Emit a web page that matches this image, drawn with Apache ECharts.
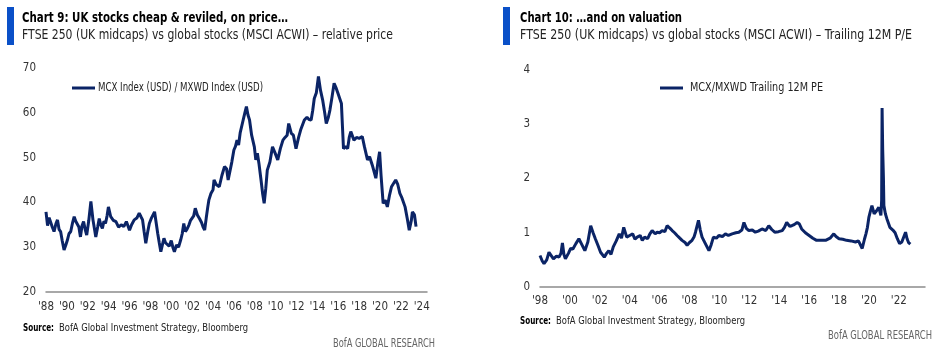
<!DOCTYPE html>
<html>
<head>
<meta charset="utf-8">
<script src="https://cdn.jsdelivr.net/npm/echarts@6/dist/echarts.min.js"></script>
<style>
  html, body { margin: 0; padding: 0; background: #fff; }
  #main { width: 937px; height: 354px; }
</style>
</head>
<body>
<div id="main"></div>
<script>
// Chart 9: relative price MCX / MXWD (decimal years)
var priceYears = [1988.00,1988.15,1988.3,1988.45,1988.6,1988.77,1988.95,1989.1,1989.25,1989.4,1989.55,1989.73,1989.9,1990.05,1990.2,1990.37,1990.55,1990.7,1990.85,1991.0,1991.15,1991.3,1991.45,1991.6,1991.75,1991.9,1992.1,1992.3,1992.5,1992.65,1992.77,1992.95,1993.1,1993.25,1993.4,1993.55,1993.7,1993.85,1993.98,1994.2,1994.45,1994.7,1994.95,1995.2,1995.45,1995.7,1995.85,1996.0,1996.2,1996.45,1996.7,1996.93,1997.1,1997.25,1997.4,1997.56,1997.75,1997.9,1998.1,1998.4,1998.55,1998.7,1998.85,1999.0,1999.15,1999.3,1999.45,1999.6,1999.8,2000.0,2000.15,2000.3,2000.5,2000.7,2000.9,2001.05,2001.2,2001.35,2001.5,2001.7,2001.85,2002.0,2002.15,2002.3,2002.5,2002.7,2002.9,2003.05,2003.2,2003.35,2003.5,2003.6,2003.8,2004.0,2004.1,2004.3,2004.6,2004.85,2005.1,2005.3,2005.45,2005.6,2005.8,2006.0,2006.15,2006.3,2006.45,2006.6,2006.85,2007.05,2007.2,2007.35,2007.5,2007.7,2007.96,2008.1,2008.25,2008.4,2008.6,2008.75,2008.9,2009.05,2009.2,2009.45,2009.7,2009.95,2010.2,2010.45,2010.7,2010.9,2011.1,2011.25,2011.5,2011.7,2011.95,2012.2,2012.4,2012.75,2013.0,2013.2,2013.4,2013.55,2013.7,2013.9,2014.1,2014.3,2014.5,2014.7,2014.85,2015.05,2015.2,2015.4,2015.6,2015.8,2015.96,2016.3,2016.4,2016.5,2016.7,2016.9,2017.05,2017.2,2017.5,2017.75,2018.0,2018.3,2018.5,2018.8,2019.0,2019.3,2019.6,2019.8,2019.96,2020.1,2020.3,2020.5,2020.7,2020.9,2021.1,2021.5,2021.7,2021.9,2022.1,2022.4,2022.6,2022.8,2023.0,2023.1,2023.3,2023.45];
var priceValues = [37.9,34.8,36.6,36.4,34.5,33.5,35.2,36.1,34.0,33.5,31.5,29.4,30.5,31.6,33.0,33.5,35.5,36.8,35.8,36.1,34.5,32.3,34.8,35.7,34.0,32.7,36.0,40.2,36.1,34.0,32.3,34.5,36.4,35.0,34.2,35.8,35.3,37.0,39.0,36.8,36.0,35.7,34.5,35.0,34.6,35.7,34.8,33.8,35.0,36.1,36.5,37.6,36.8,36.1,33.5,30.9,33.5,35.3,36.5,37.9,35.5,33.1,31.0,29.0,30.5,32.0,31.0,31.4,30.2,31.5,30.0,29.0,30.5,30.0,31.6,33.0,35.3,33.5,34.0,35.0,36.0,36.1,37.0,38.7,37.2,36.4,35.5,34.5,33.8,36.5,39.0,40.5,42.0,42.8,45.0,44.0,43.5,46.0,48.0,47.5,45.0,45.4,49.0,51.7,52.5,53.9,52.8,55.5,58.0,60.0,61.4,59.5,58.4,55.0,52.4,49.5,51.0,48.7,45.0,42.0,39.8,43.0,47.2,49.0,52.4,51.0,49.5,52.0,53.9,54.5,55.0,57.6,55.4,55.0,52.0,54.5,56.2,58.4,59.0,58.5,58.4,60.5,63.2,64.5,68.1,65.0,62.9,60.0,57.6,59.0,60.6,63.5,66.6,65.5,64.4,62.1,57.0,52.0,52.5,52.0,54.5,55.8,53.9,54.5,54.3,54.7,52.5,49.5,50.2,48.0,45.4,49.0,51.3,46.0,39.8,40.5,39.0,41.5,43.5,45.0,44.0,42.0,41.0,39.0,36.5,33.8,36.0,37.9,37.2,34.6];

// Chart 10: relative trailing 12M P/E MCX / MXWD
var peYears = [1998.0,1998.15,1998.27,1998.45,1998.6,1998.75,1998.9,1999.1,1999.27,1999.4,1999.5,1999.6,1999.7,1999.9,2000.05,2000.2,2000.4,2000.6,2000.8,2001.0,2001.2,2001.39,2001.55,2001.7,2001.9,2002.05,2002.3,2002.45,2002.6,2002.75,2002.9,2003.1,2003.3,2003.45,2003.6,2003.8,2004.0,2004.2,2004.35,2004.5,2004.7,2004.84,2005.0,2005.2,2005.35,2005.5,2005.7,2005.84,2006.0,2006.17,2006.35,2006.5,2006.7,2006.84,2007.0,2007.17,2007.35,2007.5,2007.7,2007.84,2008.0,2008.17,2008.3,2008.4,2008.6,2008.72,2008.84,2009.06,2009.3,2009.45,2009.6,2009.8,2009.96,2010.2,2010.4,2010.6,2010.85,2011.1,2011.3,2011.5,2011.64,2011.8,2011.97,2012.2,2012.4,2012.6,2012.85,2013.1,2013.3,2013.5,2013.7,2013.95,2014.2,2014.35,2014.5,2014.7,2014.84,2015.0,2015.2,2015.35,2015.5,2015.75,2016.0,2016.25,2016.5,2016.8,2017.1,2017.4,2017.65,2017.8,2018.0,2018.25,2018.5,2018.8,2019.1,2019.3,2019.4,2019.55,2019.7,2019.8,2019.9,2020.0,2020.1,2020.2,2020.35,2020.5,2020.66,2020.8,2020.85,2020.88,2020.92,2020.97,2021.0,2021.1,2021.2,2021.4,2021.6,2021.75,2021.9,2022.05,2022.2,2022.3,2022.45,2022.55,2022.65,2022.77];
var peValues = [0.58,0.48,0.43,0.50,0.64,0.58,0.52,0.57,0.55,0.62,0.81,0.60,0.52,0.62,0.71,0.70,0.80,0.89,0.78,0.67,0.83,1.13,1.00,0.89,0.75,0.64,0.55,0.62,0.67,0.60,0.74,0.85,0.98,0.90,1.10,0.92,0.95,0.98,0.88,0.92,0.95,0.86,0.92,0.89,0.98,1.04,0.98,1.01,1.00,1.04,1.02,1.13,1.08,1.04,1.00,0.95,0.90,0.86,0.82,0.77,0.82,0.86,0.92,1.01,1.23,1.05,0.92,0.80,0.67,0.78,0.92,0.90,0.95,0.93,0.98,0.95,0.98,1.00,1.01,1.05,1.19,1.08,1.04,1.05,1.01,1.03,1.07,1.04,1.13,1.06,1.01,1.02,1.04,1.10,1.19,1.12,1.13,1.15,1.19,1.16,1.07,1.00,0.95,0.90,0.86,0.86,0.86,0.90,0.98,0.93,0.89,0.88,0.86,0.85,0.83,0.85,0.86,0.71,0.88,0.98,1.10,1.29,1.40,1.50,1.35,1.40,1.47,1.32,1.60,3.30,2.54,2.00,1.50,1.35,1.26,1.10,1.05,1.00,0.89,0.80,0.83,0.82,1.01,0.89,0.82,0.79];

var priceTicks = [20, 70, 10];
var peTicks = [0, 4, 1];
var priceName = 'MCX Index (USD) / MXWD Index (USD)';
var peName = 'MCX/MXWD Trailing 12M PE';

var navy = '#0b2466';
var fontNarrow = '"DejaVu Sans Condensed", "Liberation Sans Narrow", sans-serif';

function pairs(xs, ys) {
  return xs.map(function (x, i) { return [x, ys[i]]; });
}
function yearLabel(v) {
  if (Math.abs(v - Math.round(v)) > 1e-6 || Math.round(v) % 2 !== 0) return '';
  return "'" + String(Math.round(v)).slice(2);
}

// squeeze text horizontally so it takes the width of the condensed original font
var measureCtx = document.createElement('canvas').getContext('2d');
function fitText(x, y, text, font, color, targetW) {
  measureCtx.font = font;
  var w = measureCtx.measureText(text).width;
  return {
    type: 'text', x: x, y: y, scaleX: targetW / w, silent: true,
    style: { text: text, font: font, fill: color, verticalAlign: 'middle', align: 'left' }
  };
}
function legendLine(x, y) {
  return { type: 'line', shape: { x1: x, y1: y, x2: x + 23, y2: y }, style: { stroke: navy, lineWidth: 3 } };
}

var myChart = echarts.init(document.getElementById('main'));

var xCommon = {
  type: 'value',
  interval: 2,
  axisLine: { show: true, lineStyle: { color: '#8c8c8c', width: 1.5 } },
  axisTick: { show: false },
  splitLine: { show: false },
  axisLabel: { formatter: yearLabel, color: '#333', fontSize: 11.5, fontFamily: fontNarrow, margin: 9, showMaxLabel: true }
};
var yCommon = {
  type: 'value',
  axisLine: { show: false },
  axisTick: { show: false },
  splitLine: { show: false },
  axisLabel: { color: '#333', fontSize: 11.5, fontFamily: fontNarrow, margin: 10 }
};

var option = {
  animation: false,
  grid: [
    { left: 46, top: 68, width: 381, height: 224 },
    { left: 540, top: 70, width: 385, height: 217 }
  ],
  xAxis: [
    Object.assign({}, xCommon, { gridIndex: 0, min: 1988, max: 2024.5 }),
    Object.assign({}, xCommon, { gridIndex: 1, min: 1998, max: 2023.75, axisLabel: Object.assign({}, xCommon.axisLabel, { margin: 8 }) })
  ],
  yAxis: [
    Object.assign({}, yCommon, { gridIndex: 0, min: priceTicks[0], max: priceTicks[1], interval: priceTicks[2] }),
    Object.assign({}, yCommon, { gridIndex: 1, min: peTicks[0], max: peTicks[1], interval: peTicks[2] })
  ],
  series: [
    {
      name: priceName, type: 'line', xAxisIndex: 0, yAxisIndex: 0,
      data: pairs(priceYears, priceValues), showSymbol: false, symbol: 'none',
      lineStyle: { color: navy, width: 3 }, itemStyle: { color: navy }
    },
    {
      name: peName, type: 'line', xAxisIndex: 1, yAxisIndex: 1,
      data: pairs(peYears, peValues), showSymbol: false, symbol: 'none',
      lineStyle: { color: navy, width: 3 }, itemStyle: { color: navy }
    }
  ],
  graphic: [
    { type: 'rect', shape: { x: 7, y: 7, width: 7, height: 38 }, style: { fill: '#0a50c8' } },
    fitText(22, 18, 'Chart 9: UK stocks cheap & reviled, on price…', 'bold 14px ' + fontNarrow, '#000', 266),
    fitText(22, 35, 'FTSE 250 (UK midcaps) vs global stocks (MSCI ACWI) – relative price', '14px ' + fontNarrow, '#222', 371),
    { type: 'rect', shape: { x: 503, y: 7, width: 7, height: 38 }, style: { fill: '#0a50c8' } },
    fitText(520, 18, 'Chart 10: …and on valuation', 'bold 14px ' + fontNarrow, '#000', 162),
    fitText(520, 35, 'FTSE 250 (UK midcaps) vs global stocks (MSCI ACWI) – Trailing 12M P/E', '14px ' + fontNarrow, '#222', 392),

    legendLine(72, 88),
    fitText(98, 88, priceName, '11.5px ' + fontNarrow, '#222', 165),
    legendLine(660, 88),
    fitText(690, 88, peName, '11.5px ' + fontNarrow, '#222', 133),

    fitText(23, 328, 'Source:', 'bold 11px ' + fontNarrow, '#000', 31),
    fitText(59, 328, 'BofA Global Investment Strategy, Bloomberg', '11px ' + fontNarrow, '#222', 189),
    fitText(520, 321.5, 'Source:', 'bold 11px ' + fontNarrow, '#000', 31),
    fitText(556, 321.5, 'BofA Global Investment Strategy, Bloomberg', '11px ' + fontNarrow, '#222', 189),
    fitText(333, 344, 'BofA GLOBAL RESEARCH', '12px ' + fontNarrow, '#666', 102),
    fitText(828, 336, 'BofA GLOBAL RESEARCH', '12px ' + fontNarrow, '#666', 104)
  ]
};

myChart.setOption(option);
</script>
</body>
</html>
